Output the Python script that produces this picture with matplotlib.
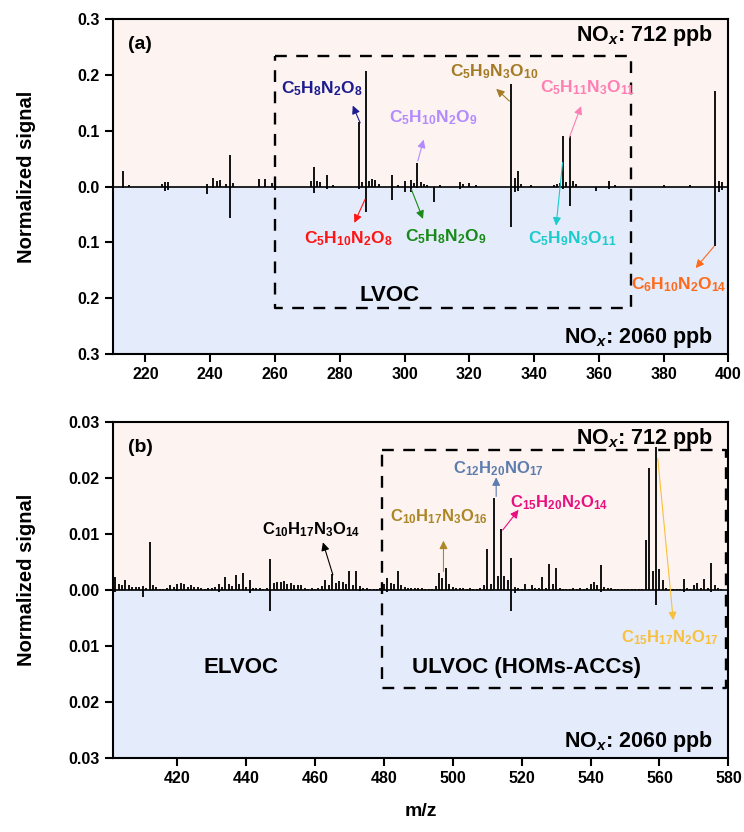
import matplotlib
matplotlib.use("Agg")
import matplotlib.pyplot as plt
from matplotlib.ticker import FuncFormatter, MultipleLocator

plt.rcParams["font.family"] = ["Liberation Sans", "DejaVu Sans"]
plt.rcParams["font.weight"] = "bold"
plt.rcParams["mathtext.fontset"] = "custom"
plt.rcParams["mathtext.rm"] = "Liberation Sans:bold"
plt.rcParams["mathtext.bf"] = "Liberation Sans:bold"
plt.rcParams["mathtext.it"] = "Liberation Sans:bold:italic"
plt.rcParams["mathtext.default"] = "rm"

# ---- panel (a): m/z 210-400 ----
mz_a_712 = [213, 215, 225, 226, 227, 239, 241, 242, 243, 245, 246, 247,
            255, 257, 259, 260, 271, 272, 273, 274, 276, 278,
            286, 287, 288, 289, 290, 291, 292, 296, 298, 300, 302, 303, 304,
            305, 306, 307, 311, 317, 318, 320, 322, 333, 334, 335, 336, 339,
            346, 347, 348, 349, 350, 351, 352, 353, 363, 365, 380, 388,
            396, 397, 398]
sig_a_712 = [0.027, 0.003, 0.005, 0.009, 0.009, 0.004, 0.016, 0.010, 0.012, 0.004, 0.057, 0.006,
             0.013, 0.014, 0.006, 0.007, 0.010, 0.035, 0.010, 0.008, 0.020, 0.003,
             0.116, 0.008, 0.207, 0.010, 0.013, 0.012, 0.004, 0.020, 0.003, 0.010, 0.012, 0.006, 0.043,
             0.008, 0.005, 0.003, 0.003, 0.008, 0.004, 0.007, 0.002, 0.184, 0.015, 0.027, 0.004, 0.003,
             0.003, 0.004, 0.006, 0.090, 0.008, 0.090, 0.010, 0.004, 0.010, 0.003, 0.002, 0.002,
             0.171, 0.010, 0.008]

mz_a_2060 = [213, 226, 227, 239, 241, 246, 260, 272, 276, 286, 288, 296, 300, 302,
             304, 309, 317, 333, 334, 335, 349, 351, 359, 363, 396, 397, 398]
sig_a_2060 = [0.003, 0.008, 0.006, 0.013, 0.003, 0.057, 0.006, 0.012, 0.004, 0.004, 0.046, 0.025, 0.010, 0.010,
              0.003, 0.027, 0.004, 0.072, 0.010, 0.008, 0.005, 0.035, 0.008, 0.005, 0.106, 0.010, 0.006]

# ---- panel (b): m/z 400-580 ----
mz_b_712 = [402, 403, 404, 405, 406, 407, 408, 409, 410, 411,
            412, 413, 414, 415, 416, 417, 418, 419, 420, 421,
            422, 423, 424, 425, 426, 427, 428, 429, 430, 431,
            432, 433, 434, 435, 436, 437, 438, 439, 440, 441,
            442, 443, 444, 445, 446, 447, 448, 449, 450, 451,
            452, 453, 454, 455, 456, 457, 458, 459, 460, 461,
            462, 463, 464, 465, 466, 467, 468, 469, 470, 471,
            472, 473, 474, 475, 476, 477, 478, 479, 480, 481,
            482, 483, 484, 485, 486, 487, 488, 489, 490, 491,
            492, 493, 494, 495, 496, 497, 498, 499, 500, 501,
            502, 503, 504, 505, 506, 507, 508, 509, 510, 511,
            512, 513, 514, 515, 516, 517, 518, 519, 520, 521,
            522, 523, 524, 525, 526, 527, 528, 529, 530, 531,
            532, 533, 534, 535, 536, 537, 538, 539, 540, 541,
            542, 543, 544, 545, 546, 547, 548, 549, 550, 551,
            552, 553, 554, 555, 556, 557, 558, 559, 560, 561,
            562, 563, 564, 565, 566, 567, 568, 569, 570, 571,
            572, 573, 574, 575, 576, 577, 578]
sig_b_712 = [0.0024, 0.0010, 0.0009, 0.0017, 0.0008, 0.0006, 0.0005, 0.0006, 0.0007, 0.0004,
             0.0086, 0.0008, 0.0006, 0.0002, 0.0002, 0.0003, 0.0009, 0.0006, 0.0010, 0.0013,
             0.0010, 0.0006, 0.0009, 0.0005, 0.0006, 0.0004, 0.0002, 0.0003, 0.0003, 0.0005,
             0.0010, 0.0006, 0.0023, 0.0010, 0.0007, 0.0026, 0.0010, 0.0031, 0.0005, 0.0017,
             0.0004, 0.0003, 0.0003, 0.0002, 0.0003, 0.0055, 0.0012, 0.0014, 0.0015, 0.0016,
             0.0010, 0.0012, 0.0009, 0.0009, 0.0008, 0.0003, 0.0002, 0.0003, 0.0002, 0.0004,
             0.0007, 0.0017, 0.0008, 0.0029, 0.0013, 0.0016, 0.0014, 0.0011, 0.0033, 0.0008,
             0.0033, 0.0007, 0.0004, 0.0003, 0.0002, 0.0002, 0.0002, 0.0003, 0.0010, 0.0022,
             0.0012, 0.0010, 0.0033, 0.0008, 0.0006, 0.0004, 0.0004, 0.0003, 0.0003, 0.0003,
             0.0002, 0.0002, 0.0002, 0.0007, 0.0031, 0.0021, 0.0040, 0.0010, 0.0006, 0.0004,
             0.0003, 0.0003, 0.0002, 0.0003, 0.0002, 0.0002, 0.0004, 0.0008, 0.0073, 0.0010,
             0.0165, 0.0025, 0.0109, 0.0025, 0.0017, 0.0057, 0.0005, 0.0003, 0.0002, 0.0010,
             0.0002, 0.0008, 0.0003, 0.0004, 0.0024, 0.0003, 0.0046, 0.0010, 0.0039, 0.0004,
             0.0002, 0.0002, 0.0002, 0.0003, 0.0002, 0.0003, 0.0002, 0.0003, 0.0010, 0.0015,
             0.0008, 0.0045, 0.0005, 0.0003, 0.0003, 0.0002, 0.0002, 0.0002, 0.0002, 0.0002,
             0.0002, 0.0002, 0.0002, 0.0002, 0.0090, 0.0217, 0.0033, 0.0255, 0.0037, 0.0018,
             0.0003, 0.0002, 0.0002, 0.0002, 0.0002, 0.0019, 0.0003, 0.0002, 0.0008, 0.0012,
             0.0003, 0.0019, 0.0004, 0.0049, 0.0008, 0.0004, 0.0002]

mz_b_2060 = [402, 410, 420, 432, 441, 447, 473, 481, 517, 518, 543, 559, 567, 575]
sig_b_2060 = [0.0003, 0.0012, 0.0002, 0.0003, 0.0005, 0.0037, 0.0002, 0.0003, 0.0037, 0.0005,
              0.0003, 0.0027, 0.0003, 0.0003]

# annotated formulas: (label, colour, arrow tail, arrow head, text centre)
notes_a = [
    (r"C$_5$H$_8$N$_2$O$_8$", "#1c1c8f", (286.3, 0.114), (284.0, 0.145), (274.5, 0.176)),
    (r"C$_5$H$_{10}$N$_2$O$_8$", "#ff1414", (287.8, -0.023), (284.5, -0.065), (282.5, -0.093)),
    (r"C$_5$H$_{10}$N$_2$O$_9$", "#b38bff", (304.1, 0.046), (305.9, 0.084), (309.0, 0.123)),
    (r"C$_5$H$_8$N$_2$O$_9$", "#178a17", (302.1, -0.005), (305.7, -0.058), (312.8, -0.089)),
    (r"C$_5$H$_9$N$_3$O$_{10}$", "#a47b25", (332.4, 0.153), (328.3, 0.175), (327.6, 0.206)),
    (r"C$_5$H$_{11}$N$_3$O$_{11}$", "#ff7fb4", (350.9, 0.088), (354.5, 0.144), (356.5, 0.177)),
    (r"C$_5$H$_9$N$_3$O$_{11}$", "#1ccbcb", (348.8, 0.043), (346.8, -0.070), (351.9, -0.093)),
    (r"C$_6$H$_{10}$N$_2$O$_{14}$", "#ff6a1a", (395.6, -0.107), (389.9, -0.146), (384.8, -0.176)),
]
notes_b = [
    (r"C$_{10}$H$_{17}$N$_3$O$_{14}$", "black", (465.2, 0.0027), (462.3, 0.0085), (458.9, 0.0107)),
    (r"C$_{10}$H$_{17}$N$_3$O$_{16}$", "#ad8626", (497.3, 0.0033), (497.3, 0.0088), (495.9, 0.0130)),
    (r"C$_{12}$H$_{20}$NO$_{17}$", "#5c7dae", (512.6, 0.0167), (512.6, 0.0201), (513.3, 0.0216)),
    (r"C$_{15}$H$_{20}$N$_2$O$_{14}$", "#e8107e", (514.5, 0.0107), (519.1, 0.0143), (530.8, 0.0155)),
    (r"C$_{15}$H$_{17}$N$_2$O$_{17}$", "#f8c03c", (559.5, 0.0235), (564.0, -0.0054), (562.9, -0.0086)),
]

fig = plt.figure(figsize=(7.44, 8.32), dpi=100)
ax_a = fig.add_axes([0.152, 0.5745, 0.827, 0.4026])
ax_b = fig.add_axes([0.152, 0.0889, 0.827, 0.4040])


def draw_panel(ax, mz_up, sig_up, mz_dn, sig_dn, xlim, ylim, step, fmt):
    ax.axhspan(0, ylim, color="#fdf3f1", zorder=0)
    ax.axhspan(-ylim, 0, color="#e4ebfb", zorder=0)
    ax.vlines(mz_up, 0, sig_up, color="black", lw=1.3, zorder=3)
    ax.vlines(mz_dn, 0, [-s for s in sig_dn], color="black", lw=1.3, zorder=3)
    ax.axhline(0, color="black", lw=1.2, zorder=3)
    ax.set_xlim(*xlim)
    ax.set_ylim(-ylim, ylim)
    ax.yaxis.set_major_locator(MultipleLocator(step))
    ax.xaxis.set_major_locator(MultipleLocator(20))
    ax.yaxis.set_major_formatter(FuncFormatter(lambda v, p: fmt.format(abs(v))))
    ax.tick_params(direction="out", length=6, width=1.5, labelsize=11.5)
    for sp in ax.spines.values():
        sp.set_linewidth(1.5)
    ax.set_ylabel("Normalized signal", fontsize=14.5, fontweight="bold")
    ax.yaxis.set_label_coords(-0.125, 0.53)


def annotate(ax, notes, fs):
    for label, col, tail, head, pos in notes:
        ax.annotate("", xy=head, xytext=tail,
                    arrowprops=dict(arrowstyle="-|>", color=col, lw=0.8,
                                    mutation_scale=12, shrinkA=0, shrinkB=0),
                    zorder=5)
        ax.text(pos[0], pos[1], label, color=col, fontsize=fs,
                ha="center", va="center", zorder=6)


draw_panel(ax_a, mz_a_712, sig_a_712, mz_a_2060, sig_a_2060, (210, 400), 0.3, 0.1, "{:.1f}")
draw_panel(ax_b, mz_b_712, sig_b_712, mz_b_2060, sig_b_2060, (401.4, 580), 0.03, 0.01, "{:.2f}")
ax_b.set_xlabel("m/z", fontsize=14, fontweight="bold", labelpad=12)

# dashed regions
ax_a.plot([260, 370, 370, 260, 260], [0.233, 0.233, -0.218, -0.218, 0.233],
          ls=(0, (5, 4)), color="black", lw=1.7, zorder=4)
ax_b.plot([479.5, 579.2, 579.2, 479.5, 479.5], [0.0249, 0.0249, -0.0175, -0.0175, 0.0249],
          ls=(0, (5, 4)), color="black", lw=1.7, zorder=4)

annotate(ax_a, notes_a, 12.5)
annotate(ax_b, notes_b, 12)

for ax, tag in ((ax_a, "(a)"), (ax_b, "(b)")):
    ax.text(0.024, 0.925, tag, transform=ax.transAxes, fontsize=14,
            fontweight="bold", ha="left", va="center")
    ax.text(0.975, 0.95, r"NO$_\mathit{x}$: 712 ppb", transform=ax.transAxes,
            fontsize=15.5, ha="right", va="center", zorder=6)
    ax.text(0.975, 0.05, r"NO$_\mathit{x}$: 2060 ppb", transform=ax.transAxes,
            fontsize=15.5, ha="right", va="center", zorder=6)

ax_a.text(295.5, -0.195, "LVOC", fontsize=16, ha="center", va="center")
ax_b.text(438.5, -0.0139, "ELVOC", fontsize=16, ha="center", va="center")
ax_b.text(521.5, -0.0139, "ULVOC (HOMs-ACCs)", fontsize=16, ha="center", va="center")

fig.savefig("out.png", dpi=100)
